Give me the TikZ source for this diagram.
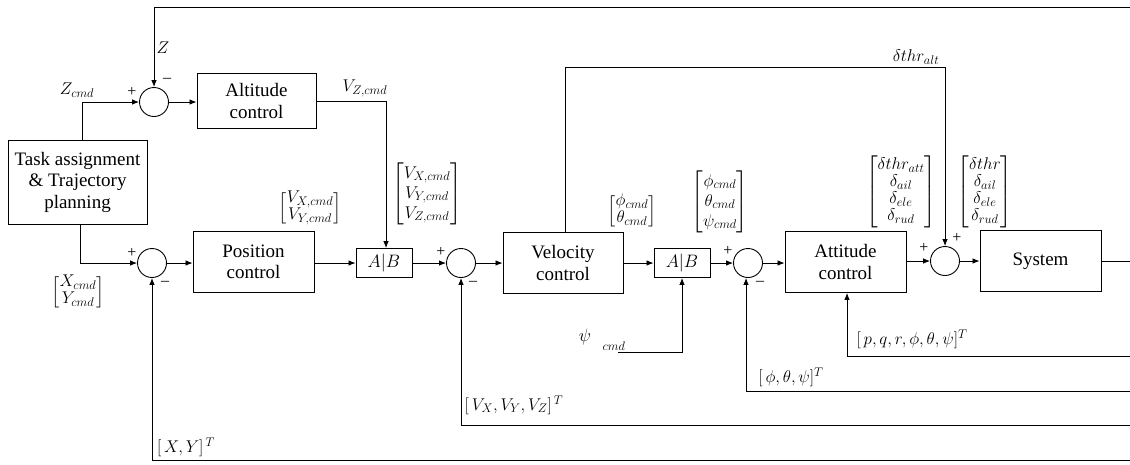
\RequirePackage{fix-cm}
\documentclass[tikz,border=0pt]{standalone}
\usepackage{amsmath}
\usepackage{fontspec}
\setmainfont{Liberation Serif}
\DeclareMathSizes{17}{17}{12.5}{9}
\DeclareMathSizes{18}{18}{13}{9.5}
\usetikzlibrary{arrows.meta}
\begin{document}
\begin{tikzpicture}[x=1pt,y=-1pt,
  blk/.style={draw,line width=0.9pt,align=center,font=\fontsize{19}{21.5}\selectfont,inner sep=0pt},
  sumc/.style={draw,circle,minimum size=29pt,inner sep=0pt,line width=0.9pt},
  lab/.style={font=\fontsize{17}{17}\selectfont,inner sep=0pt},
  labw/.style={font=\fontsize{17}{20}\selectfont,inner sep=0pt},
  sig/.style={font=\fontsize{16}{16}\selectfont,inner sep=0pt},
  ar/.style={-{Latex[length=7pt,width=5.5pt]},line width=0.8pt},
  ln/.style={line width=0.8pt}]
\useasboundingbox (0,0) rectangle (1130,464);

% blocks
\node[blk,minimum width=139pt,minimum height=84pt] (task) at (77.5,182) {Task assignment\\\& Trajectory\\planning};
\node[sumc] (sum1) at (154,102) {};
\node[blk,minimum width=119pt,minimum height=55pt] (alt) at (256.5,101) {Altitude\\control};
\node[sumc] (sum2) at (152,263) {};
\node[blk,minimum width=121pt,minimum height=61pt] (pos) at (253.5,262) {Position\\control};
\node[blk,minimum width=56pt,minimum height=29pt,font=\fontsize{18}{18}\selectfont] (ab1) at (384,263) {$A|B$};
\node[sumc] (sum3) at (461,263) {};
\node[blk,minimum width=120pt,minimum height=61pt] (vel) at (563,263) {Velocity\\control};
\node[blk,minimum width=56pt,minimum height=29pt,font=\fontsize{18}{18}\selectfont] (ab2) at (682,263) {$A|B$};
\node[sumc] (sum4) at (748,263) {};
\node[blk,minimum width=121pt,minimum height=61pt] (att) at (845.5,262) {Attitude\\control};
\node[sumc] (sum5) at (945,261) {};
\node[blk,minimum width=121pt,minimum height=61pt] (sys) at (1040.5,261) {System};

% free ends
\coordinate (top) at (1130,7);
\coordinate (out) at (1130,261);
\coordinate (fb1) at (1130,356);
\coordinate (fb2) at (1130,391);
\coordinate (fb3) at (1130,425);
\coordinate (fb4) at (1130,460);
\coordinate (thrc) at (565,67);
\coordinate (psiend) at (618,352);

% connectors
\draw[ar] (top) -| (sum1.north);
\draw[ar] ([xshift=4.5pt]task.north) |- (sum1.west);
\draw[ar] (sum1.east) -- (alt.west |- sum1.east);
\draw[ar] (alt.east) -| ([xshift=2pt]ab1.north);
\draw[ar] ([xshift=2.5pt]task.south) |- (sum2.west);
\draw[ar] (sum2.east) -- (pos.west |- sum2.east);
\draw[ar] (pos.east |- ab1.west) -- (ab1.west);
\draw[ar] (ab1.east) -- (sum3.west);
\draw[ar] (sum3.east) -- (vel.west |- sum3.east);
\draw[ar] (vel.east |- ab2.west) -- (ab2.west);
\draw[ar] (ab2.east) -- (sum4.west);
\draw[ar] (sum4.east) -- (att.west |- sum4.east);
\draw[ar] (att.east |- sum5.west) -- (sum5.west);
\draw[ar] (sum5.east) -- (sys.west |- sum5.east);
\draw[ln] (sys.east) -- (out);
\draw[ar] ([xshift=2pt]vel.north) -- (thrc) -| (sum5.north);
\draw[ar] (psiend) -| (ab2.south);
\draw[ar] (fb1) -| ([xshift=1.5pt]att.south);
\draw[ar] (fb2) -| ([xshift=-2pt]sum4.south);
\draw[ar] (fb3) -| (sum3.south);
\draw[ar] (fb4) -| (sum2.south);

% signs
\node[sig] (p1) at (132,92) {+};
\node[sig] (m1) at (167,80) {–};
\node[sig] (p2) at (132,253) {+};
\node[sig] (m2) at (165,283) {–};
\node[sig] (p3) at (441,252) {+};
\node[sig] (m3) at (473,283) {–};
\node[sig] (p4) at (728,251) {+};
\node[sig] (m4) at (760,283) {–};
\node[sig] (p5) at (924,248) {+};
\node[sig] (p6) at (957,238) {+};

% labels
\node[lab] (lz) at (163,48) {$Z$};
\node[lab] (lzc) at (77,90) {$Z_{cmd}$};
\node[lab] (lvz) at (365,88) {$V_{Z,cmd}$};
\node[lab] (lxy) at (78,292) {$\begin{bmatrix} X_{cmd}\\ Y_{cmd}\end{bmatrix}$};
\node[lab] (lvxy) at (310,208) {$\begin{bmatrix} V_{X,cmd}\\ V_{Y,cmd}\end{bmatrix}$};
\node[labw] (lvxyz) at (427,194) {$\begin{bmatrix} V_{X,cmd}\\ V_{Y,cmd}\\ V_{Z,cmd}\end{bmatrix}$};
\node[lab] (lpt) at (632,211) {$\begin{bmatrix} \phi_{cmd}\\ \theta_{cmd}\end{bmatrix}$};
\node[labw] (lptp) at (720,202) {$\begin{bmatrix} \phi_{cmd}\\ \theta_{cmd}\\ \psi_{cmd}\end{bmatrix}$};
\node[lab] (ldatt) at (901,192) {$\begin{bmatrix} \delta thr_{att}\\ \delta_{ail}\\ \delta_{ele}\\ \delta_{rud}\end{bmatrix}$};
\node[lab] (ld) at (985,192) {$\begin{bmatrix} \delta thr\\ \delta_{ail}\\ \delta_{ele}\\ \delta_{rud}\end{bmatrix}$};
\node[lab] (lthr) at (916,57) {$\delta thr_{alt}$};
\node[lab,font=\fontsize{18}{18}\selectfont] (lpsi) at (585,337) {$\psi$};
\node[lab] (lpsic) at (614,346) {$_{cmd}$};
\node[lab] (lpqr) at (912,339) {$[\,p,q,r,\phi,\theta,\psi]^{T}$};
\node[lab] (lang) at (791,377) {$[\,\phi,\theta,\psi]^{T}$};
\node[lab] (lv) at (514,405) {$[\,V_X,V_Y,V_Z]^{\,T}$};
\node[lab] (lxyt) at (186,447) {$[\,X,Y]^{\,T}$};
\end{tikzpicture}
\end{document}
